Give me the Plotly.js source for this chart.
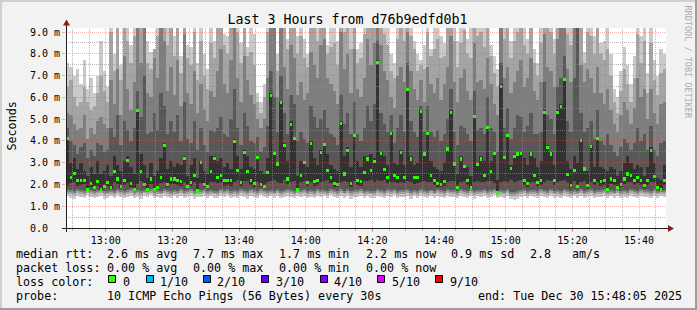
<!DOCTYPE html>
<html>
<head>
<meta charset="utf-8">
<script src="https://cdn.plot.ly/plotly-3.0.1.min.js"></script>
<style>
html,body{margin:0;padding:0;background:#f2f2f2;}
#chart{width:697px;height:310px;}
.barlayer path{shape-rendering:crispEdges;}
</style>
</head>
<body>
<div id="chart"></div>
<script>
// ---------------- data (ms) ----------------
const startClock = '12:48:05';
const endClock = '15:48:05';
const stepMinutes = 1;

const xTickLabels = ['13:00','13:20','13:40','14:00','14:20','14:40','15:00','15:20','15:40'];
const yTickLabels = ['0.0','1.0 m','2.0 m','3.0 m','4.0 m','5.0 m','6.0 m','7.0 m','8.0 m','9.0 m'];
const yTickValues = [0,1,2,3,4,5,6,7,8,9];

// median rtt per step
const med = [
4.1,2.3,2.5,2.2,2.2,2.2,1.75,2.05,1.85,2.15,
1.76,1.9,2.1,1.85,2.6,2.25,1.9,2.2,3.1,2.05,
1.76,5.4,2.6,2.0,1.75,2.25,1.75,1.85,2.3,3.8,
2.0,2.25,2.25,2.2,2.15,3.2,1.9,2.1,2.4,1.7,
3.0,2.0,1.9,2.6,3.2,2.33,2.4,2.17,2.2,2.17,
3.98,2.66,2.1,3.47,2.6,2.2,2.05,3.24,2.0,1.9,
2.55,6.1,3.43,2.94,5.77,3.78,2.25,4.75,4.13,1.79,
2.4,3.0,2.11,3.9,2.13,2.17,3.47,3.84,2.63,2.33,
2.05,2.0,4.8,2.48,3.55,2.05,4.24,2.2,2.14,2.55,
3.17,2.63,3.05,7.6,3.43,2.68,2.33,4.36,2.4,2.33,
3.47,2.33,6.38,3.17,2.3,2.33,5.34,3.4,4.35,2.4,
2.2,2.05,2.0,2.14,3.63,5.31,2.94,1.84,3.17,2.82,
2.17,1.87,5.11,2.91,3.17,2.4,4.62,2.6,3.43,1.64,
6.5,3.24,4.24,2.75,3.28,3.4,3.43,2.2,2.05,3.4,
2.4,2.1,2.2,5.31,3.7,3.4,2.17,5.31,5.57,6.8,
2.45,1.94,2.66,1.9,4.0,2.71,1.94,3.73,2.2,4.09,
2.14,2.17,1.75,2.25,2.17,1.84,2.0,2.25,2.48,2.4,
2.17,2.3,2.2,1.94,2.2,3.58,2.36,1.84,1.76,2.2];

// sorted pings p1 (fastest) .. p10 (slowest)
const p1 = [
1.45,1.40,1.35,1.48,1.42,1.38,1.50,1.44,1.36,1.41,
1.47,1.33,1.40,1.45,1.38,1.50,1.42,1.36,1.44,1.48,
1.39,1.43,1.35,1.46,1.41,1.50,1.37,1.44,1.40,1.47,
1.42,1.36,1.45,1.40,1.49,1.38,1.43,1.47,1.35,1.44,
1.41,1.48,1.37,1.45,1.40,1.36,1.46,1.42,1.50,1.39,
1.44,1.37,1.48,1.41,1.35,1.46,1.43,1.39,1.50,1.42,
1.38,1.45,1.40,1.47,1.36,1.43,1.49,1.41,1.37,1.46,
1.42,1.48,1.39,1.44,1.36,1.47,1.41,1.45,1.38,1.50,
1.43,1.37,1.46,1.40,1.48,1.35,1.44,1.41,1.47,1.39,
1.45,1.40,1.36,1.48,1.42,1.38,1.46,1.43,1.50,1.37,
1.44,1.41,1.47,1.35,1.45,1.39,1.48,1.42,1.36,1.46,
1.40,1.47,1.43,1.38,1.49,1.41,1.44,1.37,1.46,1.42,
1.39,1.48,1.35,1.45,1.41,1.47,1.38,1.43,1.50,1.36,
1.44,1.40,1.46,1.32,1.30,1.35,1.42,1.47,1.38,1.45,
1.41,1.36,1.48,1.43,1.39,1.46,1.40,1.44,1.37,1.49,
1.42,1.38,1.45,1.40,1.47,1.36,1.43,1.48,1.39,1.44,
1.41,1.46,1.37,1.45,1.40,1.48,1.38,1.43,1.36,1.47,
1.42,1.39,1.46,1.41,1.44,1.37,1.48,1.40,1.45,1.42];
const p2 = [
1.58,1.55,1.52,1.60,1.56,1.53,1.62,1.57,1.51,1.55,
1.60,1.50,1.54,1.58,1.52,1.62,1.56,1.50,1.57,1.61,
1.53,1.57,1.50,1.59,1.55,1.62,1.52,1.58,1.54,1.60,
1.56,1.51,1.58,1.54,1.61,1.52,1.57,1.60,1.50,1.58,
1.55,1.61,1.52,1.58,1.54,1.51,1.59,1.56,1.62,1.53,
1.58,1.52,1.61,1.55,1.50,1.59,1.57,1.53,1.62,1.56,
1.52,1.58,1.54,1.60,1.51,1.57,1.61,1.55,1.52,1.59,
1.56,1.61,1.53,1.58,1.51,1.60,1.55,1.58,1.52,1.62,
1.57,1.52,1.59,1.54,1.61,1.50,1.58,1.55,1.60,1.53,
1.58,1.54,1.51,1.61,1.56,1.52,1.59,1.57,1.62,1.52,
1.58,1.55,1.60,1.50,1.58,1.53,1.61,1.56,1.51,1.59,
1.54,1.60,1.57,1.52,1.61,1.55,1.58,1.51,1.59,1.56,
1.53,1.61,1.50,1.58,1.55,1.60,1.52,1.57,1.62,1.50,
1.58,1.54,1.59,1.47,1.45,1.50,1.56,1.60,1.52,1.58,
1.55,1.51,1.61,1.57,1.53,1.59,1.54,1.58,1.52,1.61,
1.56,1.52,1.58,1.54,1.60,1.51,1.57,1.61,1.53,1.58,
1.55,1.59,1.52,1.58,1.54,1.61,1.52,1.57,1.51,1.60,
1.56,1.53,1.59,1.55,1.58,1.52,1.61,1.54,1.58,1.56];
const p3 = [
1.66,1.64,1.61,1.68,1.65,1.62,1.70,1.66,1.60,1.64,
1.68,1.59,1.63,1.67,1.61,1.70,1.65,1.59,1.66,1.69,
1.62,1.66,1.60,1.67,1.64,1.70,1.61,1.67,1.63,1.68,
1.65,1.60,1.67,1.63,1.69,1.61,1.66,1.68,1.60,1.67,
1.64,1.69,1.61,1.67,1.63,1.60,1.68,1.65,1.70,1.62,
1.67,1.61,1.69,1.64,1.60,1.68,1.66,1.62,1.70,1.65,
1.61,1.67,1.63,1.68,1.60,1.66,1.69,1.64,1.61,1.68,
1.65,1.69,1.62,1.67,1.60,1.68,1.64,1.67,1.61,1.70,
1.66,1.61,1.68,1.63,1.69,1.60,1.67,1.64,1.68,1.62,
1.67,1.63,1.60,1.69,1.65,1.61,1.68,1.66,1.70,1.61,
1.67,1.64,1.68,1.60,1.67,1.62,1.69,1.65,1.60,1.68,
1.63,1.68,1.66,1.61,1.69,1.64,1.67,1.60,1.68,1.65,
1.62,1.69,1.60,1.67,1.64,1.68,1.61,1.66,1.70,1.60,
1.67,1.63,1.68,1.57,1.55,1.60,1.65,1.68,1.61,1.67,
1.64,1.60,1.69,1.66,1.62,1.68,1.63,1.67,1.61,1.69,
1.65,1.61,1.67,1.63,1.68,1.60,1.66,1.69,1.62,1.67,
1.64,1.68,1.61,1.67,1.63,1.69,1.61,1.66,1.60,1.68,
1.65,1.62,1.68,1.64,1.67,1.61,1.69,1.63,1.67,1.65];
const p4 = [
1.75,1.73,1.70,1.77,1.74,1.72,1.72,1.75,1.69,1.73,
1.72,1.68,1.72,1.76,1.70,1.78,1.74,1.68,1.75,1.77,
1.70,1.75,1.69,1.76,1.70,1.78,1.68,1.75,1.72,1.77,
1.74,1.69,1.76,1.72,1.77,1.70,1.75,1.77,1.69,1.68,
1.73,1.77,1.70,1.76,1.72,1.69,1.77,1.74,1.78,1.71,
1.76,1.70,1.77,1.73,1.69,1.77,1.75,1.71,1.78,1.74,
1.70,1.76,1.72,1.77,1.69,1.75,1.77,1.73,1.70,1.74,
1.74,1.77,1.71,1.76,1.69,1.77,1.73,1.76,1.70,1.78,
1.75,1.70,1.77,1.72,1.77,1.69,1.76,1.73,1.77,1.71,
1.76,1.72,1.69,1.77,1.74,1.70,1.77,1.75,1.78,1.70,
1.76,1.73,1.77,1.69,1.76,1.71,1.77,1.74,1.69,1.76,
1.72,1.77,1.75,1.70,1.77,1.73,1.76,1.69,1.77,1.74,
1.71,1.77,1.69,1.76,1.73,1.77,1.70,1.75,1.78,1.62,
1.76,1.72,1.77,1.66,1.64,1.69,1.74,1.77,1.70,1.76,
1.73,1.69,1.77,1.75,1.71,1.77,1.72,1.76,1.70,1.77,
1.74,1.70,1.76,1.72,1.77,1.69,1.75,1.77,1.71,1.76,
1.73,1.77,1.70,1.76,1.72,1.77,1.70,1.75,1.69,1.77,
1.74,1.71,1.77,1.73,1.76,1.70,1.77,1.72,1.70,1.74];
const p5 = [
1.95,2.05,2.1,1.95,1.98,2.0,1.73,1.9,1.80,1.95,
1.74,1.84,1.95,1.80,2.1,2.0,1.84,1.98,2.05,1.9,
1.73,2.0,2.15,1.88,1.72,2.02,1.71,1.80,2.05,2.1,
1.9,2.0,2.02,1.98,1.95,2.1,1.84,1.92,2.1,1.69,
2.05,1.88,1.84,2.1,2.1,2.05,2.1,1.95,1.98,1.95,
2.1,2.2,1.92,2.15,2.15,1.98,1.9,2.1,1.88,1.84,
2.1,2.15,2.2,2.1,2.05,2.2,2.0,2.1,2.15,1.76,
2.1,2.15,1.92,2.1,1.95,1.97,2.1,2.15,2.2,2.05,
1.9,1.88,2.1,2.15,2.1,1.9,2.15,1.98,1.95,2.15,
2.15,2.2,2.1,2.2,2.15,2.2,2.05,2.1,2.1,2.05,
2.1,2.05,2.15,2.1,2.02,2.05,2.1,2.15,2.1,2.1,
1.98,1.9,1.88,1.95,2.1,2.15,2.15,1.78,2.1,2.15,
1.97,1.8,2.1,2.15,2.1,2.1,2.15,2.15,2.05,1.63,
2.1,2.15,2.1,2.2,2.1,2.15,2.2,1.98,1.9,2.1,
2.1,1.92,1.98,2.1,2.2,2.15,1.97,2.1,2.15,2.2,
2.1,1.86,2.15,1.84,2.1,2.15,1.86,2.1,1.98,2.1,
1.95,1.97,1.72,2.0,1.97,1.80,1.88,2.0,2.1,2.1,
1.97,2.05,1.98,1.86,1.98,2.1,2.1,1.78,1.73,1.98];
const p6 = [
4.2,3.0,3.2,2.7,3.0,2.6,2.4,2.8,2.5,3.1,
2.5,2.6,2.9,2.4,3.3,2.9,2.6,3.1,3.3,2.8,
2.5,5.5,3.4,2.9,2.3,3.0,2.4,2.6,3.2,3.9,
2.7,3.1,2.8,3.0,2.9,3.3,2.4,2.9,3.2,2.3,
3.1,2.6,2.5,3.3,3.3,3.1,3.2,2.8,3.0,2.7,
4.1,3.3,2.7,3.6,3.3,2.8,2.7,3.3,2.6,2.5,
3.2,6.2,3.5,3.0,5.8,3.9,3.1,4.9,4.2,2.4,
3.1,3.1,2.8,4.0,3.2,2.9,3.6,3.9,3.4,2.9,
2.7,2.6,4.9,3.3,3.7,2.8,4.3,3.1,2.8,3.3,
3.3,3.4,3.2,7.7,3.5,3.3,2.9,4.4,3.0,2.9,
3.6,2.9,6.4,3.3,2.9,3.0,5.4,3.5,4.4,3.1,
2.8,2.7,2.6,3.0,3.7,5.4,3.0,2.5,3.3,2.9,
2.8,2.4,5.2,3.0,3.3,3.1,4.7,3.1,3.5,2.2,
6.6,3.3,4.3,2.9,3.4,3.5,3.5,3.2,2.9,3.5,
3.2,2.8,3.1,5.4,3.8,3.5,2.9,5.4,5.7,6.9,
3.1,2.7,3.3,3.0,4.1,2.8,2.6,3.8,2.8,4.2,
2.8,2.7,2.6,2.8,2.7,2.4,2.6,3.0,3.3,3.0,
2.7,2.9,2.8,2.4,2.8,3.7,3.0,2.3,2.2,2.9];
const p7 = [
4.6,4.0,3.8,3.4,3.7,3.9,3.2,3.6,3.3,3.9,
3.8,3.5,3.6,4.6,4.2,5.2,3.8,4.9,4.5,4.0,
4.6,6.3,5.1,7.0,4.3,4.4,5.3,4.5,6.2,5.6,
4.3,4.9,4.4,5.2,4.0,5.8,4.1,3.9,4.9,3.6,
4.6,3.8,3.5,4.5,4.4,4.6,5.1,4.3,4.2,5.0,
6.4,4.6,3.8,5.3,4.7,4.0,3.9,4.2,3.5,3.7,
4.7,7.2,6.0,4.4,7.0,5.3,4.3,6.1,5.7,4.0,
4.4,4.1,3.9,5.6,5.1,4.6,5.0,5.4,4.6,4.3,
4.2,3.8,6.1,4.8,5.3,4.3,5.8,4.3,4.0,4.6,
5.6,4.9,5.7,8.6,5.3,4.8,4.4,5.2,3.9,4.6,
5.2,4.4,7.6,4.9,4.4,4.2,5.6,4.4,5.6,4.4,
4.2,4.5,4.0,4.3,5.0,6.4,4.4,3.8,4.7,4.6,
4.3,4.0,6.3,4.5,4.6,4.3,6.0,4.6,4.4,3.5,
7.6,4.6,5.5,4.1,4.6,5.2,5.1,4.4,4.7,5.3,
4.3,4.3,4.4,6.7,5.2,5.0,4.3,6.5,6.9,7.9,
4.9,4.4,6.9,9.5,5.3,4.4,4.6,4.9,4.1,5.4,
4.0,3.8,4.3,3.8,3.5,3.3,3.7,4.1,3.9,3.6,
3.9,4.6,4.0,4.3,3.6,4.7,3.6,3.3,3.9,4.0];
const p8 = [
5.3,5.2,4.8,4.5,4.6,5.2,4.1,4.6,4.3,4.9,
5.1,4.8,4.6,6.8,5.7,7.3,5.2,7.9,6.4,5.4,
6.7,9.5,7.6,9.5,6.2,6.0,7.8,6.9,9.5,8.6,
6.3,7.4,6.1,7.7,5.6,8.9,6.2,5.7,7.2,5.3,
6.6,5.4,4.9,6.3,6.0,7.2,8.2,6.6,6.2,7.7,
9.5,6.9,5.8,7.9,6.8,6.1,5.7,5.0,4.6,5.0,
6.9,9.2,9.5,6.0,9.5,7.4,6.4,8.4,7.8,6.1,
6.7,5.9,6.2,8.1,7.5,6.9,8.4,8.7,6.9,6.6,
6.3,5.7,9.0,7.3,8.0,6.2,8.2,6.4,6.0,6.9,
8.7,7.5,8.5,9.5,8.4,7.2,6.8,6.0,5.5,7.0,
7.4,6.7,9.0,7.2,6.4,5.9,6.8,5.8,7.4,6.6,
6.2,6.9,5.9,6.6,7.4,8.8,6.7,5.8,6.9,7.3,
6.3,5.9,8.5,6.7,6.8,6.4,7.8,6.6,5.7,5.2,
9.2,6.9,7.4,6.2,6.7,7.2,7.7,6.5,6.9,7.8,
6.3,5.9,6.7,8.9,7.4,7.2,6.5,8.7,9.2,9.5,
7.3,6.7,9.5,9.5,7.5,6.7,7.3,6.9,6.2,7.4,
6.2,5.7,6.4,5.4,4.8,4.4,5.2,5.8,5.4,4.8,
5.5,6.9,6.0,6.4,5.0,6.4,5.3,4.8,5.7,5.8];
const p9 = [
6.5,6.8,6.0,5.6,5.8,6.5,5.8,5.4,5.6,6.2,
7.0,6.3,5.8,9.0,7.2,9.5,6.8,9.5,8.6,7.6,
8.8,9.5,9.5,9.5,7.6,7.3,8.2,8.8,9.5,9.5,
8.4,9.5,7.9,9.5,7.1,9.5,7.8,7.5,9.0,6.8,
8.6,7.0,6.4,8.5,7.8,9.3,9.5,8.4,8.0,9.5,
9.5,9.0,7.6,9.5,7.9,8.1,7.5,5.8,5.3,6.0,
9.0,9.5,9.5,7.2,9.5,9.3,8.2,9.5,9.5,8.0,
8.8,7.8,7.4,9.5,9.2,8.6,9.5,9.5,8.0,8.3,
8.5,7.5,9.5,9.0,9.5,8.2,9.5,7.6,7.8,8.9,
9.5,9.2,9.5,9.5,9.5,8.9,8.4,7.2,6.9,8.7,
9.3,8.6,9.5,8.8,8.2,7.2,7.5,7.3,9.0,7.9,
8.2,8.7,7.8,7.9,9.3,9.5,8.6,7.4,8.5,9.1,
8.0,7.8,9.5,8.8,9.0,8.3,9.5,7.9,7.1,6.5,
9.5,8.7,9.3,7.8,8.6,9.0,9.5,8.4,8.0,9.5,
7.6,7.0,8.5,9.5,9.2,9.0,8.0,9.5,9.5,9.5,
8.9,8.4,9.5,9.5,9.3,7.6,9.0,8.8,8.0,9.3,
8.0,7.7,8.2,7.0,5.8,5.3,6.3,7.3,6.6,5.8,
6.9,8.9,7.6,8.6,6.2,8.5,6.8,6.1,7.1,7.3];
const p10 = [
7.6,7.4,7.0,7.3,6.6,7.7,6.4,6.9,6.2,7.0,
8.6,7.2,6.5,9.5,8.0,9.5,7.5,9.5,9.5,8.4,
9.5,9.5,9.5,9.5,8.6,8.1,8.2,9.5,9.5,9.5,
9.5,9.5,8.8,9.5,7.9,9.5,8.4,8.3,9.5,7.6,
9.5,8.0,7.3,9.5,8.6,9.5,9.5,8.9,8.8,9.5,
9.5,9.5,8.5,9.5,8.3,9.5,8.9,6.2,5.8,6.6,
9.5,9.5,9.5,8.0,9.5,9.5,8.7,9.5,9.5,8.8,
9.5,8.7,8.0,9.5,9.5,9.5,9.5,9.5,8.4,9.5,
9.5,8.6,9.5,9.5,9.5,9.5,9.5,8.2,8.5,9.5,
9.5,9.5,9.5,9.5,9.5,9.5,9.5,8.0,7.6,9.5,
9.5,9.5,9.5,9.5,8.6,8.0,7.7,8.4,9.5,8.2,
9.5,9.5,8.8,8.5,9.5,9.5,9.5,8.6,9.5,9.5,
8.7,9.5,9.5,9.5,9.5,9.5,9.5,8.4,7.9,7.3,
9.5,9.5,9.5,8.6,9.5,9.5,9.5,9.5,8.7,9.5,
8.2,7.6,9.5,9.5,9.5,9.5,8.7,9.5,9.5,9.5,
9.5,9.5,9.5,9.5,9.5,8.1,9.5,9.5,8.8,9.5,
8.5,8.6,9.5,8.0,6.4,6.0,7.2,8.3,7.5,6.6,
7.9,9.5,8.8,9.5,7.1,9.5,7.7,7.0,8.2,8.0];

// legend content
const rttStats = ['2.6 ms avg','7.7 ms max','1.7 ms min','2.2 ms now','0.9 ms sd','2.8','am/s'];
const lossStats = ['0.00 % avg','0.00 % max','0.00 % min','0.00 % now'];
const lossLabels = ['0','1/10','2/10','3/10','4/10','5/10','9/10'];
const lossColors = ['#26ff00','#00b8ff','#0059ff','#5e00ff','#7e00ff','#dd00ff','#ff0000'];
const probeText = '10 ICMP Echo Pings (56 Bytes) every 30s';
const endText = 'end: Tue Dec 30 15:48:05 2025';
const titleText = 'Last 3 Hours from d76b9edfd0b1';

// ---------------- build ----------------
function clockToMin(s){const a=s.split(':').map(Number);return a[0]*60+a[1]+(a[2]||0)/60;}
const t0 = clockToMin(startClock), t1 = clockToMin(endClock);
const times = med.map((_, i) => t0 + (i + 0.5) * stepMinutes);
const yMax = 9.187;

const PL = 66, PR = 666, PT = 28, PB = 228;
const W = PR - PL, H = PB - PT;
const pxX = px => (px - PL) / W;
const pxY = py => (PB - py) / H;
const xToPx = t => PL + (t - t0) / (t1 - t0) * W;
const yToPx = v => PB - v / yMax * H;
const crisp = p => Math.floor(p) + 0.5;

const shades = ['#cacaca','#a4a4a4','#7e7e7e','#585858','#323232'];
const lows = [p1,p2,p3,p4,p5];
const highs = [p10,p9,p8,p7,p6];
const traces = [];
for (let k = 0; k < 5; k++) {
  traces.push({
    type:'bar', x: times, base: lows[k],
    y: highs[k].map((h, i) => h - lows[k][i]),
    width: stepMinutes,
    marker:{color: shades[k], line:{width:0}},
    hoverinfo:'skip'
  });
}
const medHalf = 0.07;
traces.push({
  type:'bar', x: times, base: med.map(v => v - medHalf),
  y: med.map(() => 2 * medHalf), width: stepMinutes * 0.75,
  marker:{color: lossColors[0], line:{width:0}}, hoverinfo:'skip'
});

const majorGrid = 'rgba(222,79,79,0.42)';
const minorGrid = 'rgba(143,143,143,0.65)';
const shapes = [];
const xTickVals = xTickLabels.map(clockToMin);
for (let m = Math.ceil(t0 / 5) * 5; m < t1; m += 5) {
  const isMajor = m % 20 === 0;
  const px = crisp(xToPx(m));
  shapes.push({type:'line', xref:'paper', yref:'paper', x0:pxX(px), x1:pxX(px), y0:0, y1:1,
    line:{color: isMajor ? majorGrid : minorGrid, width:1, dash:'1px,1px'}, layer:'above'});
}
for (let v = 0.5; v < yMax; v += 0.5) {
  const isMajor = Math.abs(v - Math.round(v)) < 1e-6;
  const py = crisp(yToPx(v));
  shapes.push({type:'line', xref:'paper', yref:'paper', x0:0, x1:1, y0:pxY(py), y1:pxY(py),
    line:{color: isMajor ? majorGrid : minorGrid, width:1, dash:'1px,1px'}, layer:'above'});
}
const axisCol = '#1f1f1f', arrowCol = '#8a1e1e';
shapes.push({type:'line', xref:'paper', yref:'paper', x0:pxX(62), x1:pxX(669), y0:pxY(228.5), y1:pxY(228.5), line:{color:axisCol, width:1}, layer:'above'});
shapes.push({type:'line', xref:'paper', yref:'paper', x0:pxX(66.5), x1:pxX(66.5), y0:pxY(232), y1:pxY(24), line:{color:axisCol, width:1}, layer:'above'});
shapes.push({type:'path', xref:'paper', yref:'paper', layer:'above', fillcolor:arrowCol, line:{width:0},
  path:`M ${pxX(674)},${pxY(228.5)} L ${pxX(668)},${pxY(225)} L ${pxX(668)},${pxY(232)} Z`});
shapes.push({type:'path', xref:'paper', yref:'paper', layer:'above', fillcolor:arrowCol, line:{width:0},
  path:`M ${pxX(66.5)},${pxY(19.5)} L ${pxX(63)},${pxY(25.5)} L ${pxX(70)},${pxY(25.5)} Z`});
shapes.push({type:'rect', xref:'paper', yref:'paper', x0:pxX(0), x1:pxX(697), y0:pxY(0), y1:pxY(2), fillcolor:'#cfcfcf', line:{width:0}, layer:'above'});
shapes.push({type:'rect', xref:'paper', yref:'paper', x0:pxX(0), x1:pxX(2), y0:pxY(0), y1:pxY(310), fillcolor:'#cfcfcf', line:{width:0}, layer:'above'});
shapes.push({type:'rect', xref:'paper', yref:'paper', x0:pxX(0), x1:pxX(697), y0:pxY(308), y1:pxY(310), fillcolor:'#9e9e9e', line:{width:0}, layer:'above'});
shapes.push({type:'rect', xref:'paper', yref:'paper', x0:pxX(695), x1:pxX(697), y0:pxY(0), y1:pxY(310), fillcolor:'#9e9e9e', line:{width:0}, layer:'above'});

const squareX = [108.5,146.5,203.5,261.5,320.5,377.5,435.5];
lossColors.forEach((c, i) => {
  shapes.push({type:'rect', xref:'paper', yref:'paper', x0:pxX(squareX[i]), x1:pxX(squareX[i]+7),
    y0:pxY(275.5), y1:pxY(282.5), fillcolor:c, line:{color:'#000', width:1}, layer:'above'});
});

const mono = 'DejaVu Sans Mono, monospace';
const legFont = {family: mono, size: 11.7, color:'#000'};
const annotations = [];
function txt(text, px, py, extra){
  annotations.push(Object.assign({text, x:pxX(px), y:pxY(py), xref:'paper', yref:'paper',
    xanchor:'left', yanchor:'middle', showarrow:false, font:legFont, borderpad:0, borderwidth:0}, extra||{}));
}
const rttX = [107.3,193.3,279.3,365.7,451,530,572.3];
const lossX = [107.3,193.3,279.3,365.7];
const labelX = [122.7,160,217.3,276,334.3,391.7,450];
const row = [254.3, 268.3, 282, 295.5];
txt('median rtt:', 16, row[0]);
rttStats.forEach((s, i) => txt(s, rttX[i], row[0]));
txt('packet loss:', 16, row[1]);
lossStats.forEach((s, i) => txt(s, lossX[i], row[1]));
txt('loss color:', 16, row[2]);
lossLabels.forEach((s, i) => txt(s, labelX[i], row[2]));
txt('probe:', 16, row[3]);
txt(probeText, 107.3, row[3]);
txt(endText, 478, row[3]);
txt('Seconds', 11.5, 126, {xanchor:'center', textangle:-90});
txt('RRDTOOL / TOBI OETIKER', 688, 61.5, {xanchor:'center', textangle:90, font:{family:mono, size:8.5, color:'#ababab'}});

const layout = {
  width: 697, height: 310,
  margin: {l: PL, r: 697 - PR, t: PT, b: 310 - PB, pad: 0},
  paper_bgcolor: '#f2f2f2', plot_bgcolor: '#ffffff',
  barmode: 'overlay', bargap: 0, showlegend: false, hovermode: false,
  font: {family: mono, size: 10, color: '#000'},
  title: {text: titleText, font: {family: mono, size: 13.3, color: '#000'},
    xref: 'container', x: 347.5 / 697, xanchor: 'center',
    yref: 'container', y: 1 - 19.5 / 310, yanchor: 'middle'},
  xaxis: {range: [t0, t1], tickmode: 'array', tickvals: xTickVals, ticktext: xTickLabels,
    ticks: 'outside', ticklen: 3, tickwidth: 1, tickcolor: majorGrid,
    showgrid: false, zeroline: false, showline: false, fixedrange: true,
    tickfont: {family: mono, size: 10, color: '#000'},
    minor: {tickmode: 'linear', tick0: clockToMin('12:50'), dtick: 5, ticks: 'outside', ticklen: 2, tickcolor: minorGrid, showgrid: false}},
  yaxis: {range: [0, yMax], tickmode: 'array', tickvals: yTickValues,
    ticktext: yTickLabels.map(s => s.length < 5 ? s + '\u00a0\u00a0' : s),
    ticks: 'outside', ticklen: 3, tickwidth: 1, tickcolor: majorGrid,
    showgrid: false, zeroline: false, showline: false, fixedrange: true,
    tickfont: {family: mono, size: 10, color: '#000'}},
  shapes, annotations
};

Plotly.newPlot('chart', traces, layout, {displayModeBar: false, responsive: false});
</script>
</body>
</html>
